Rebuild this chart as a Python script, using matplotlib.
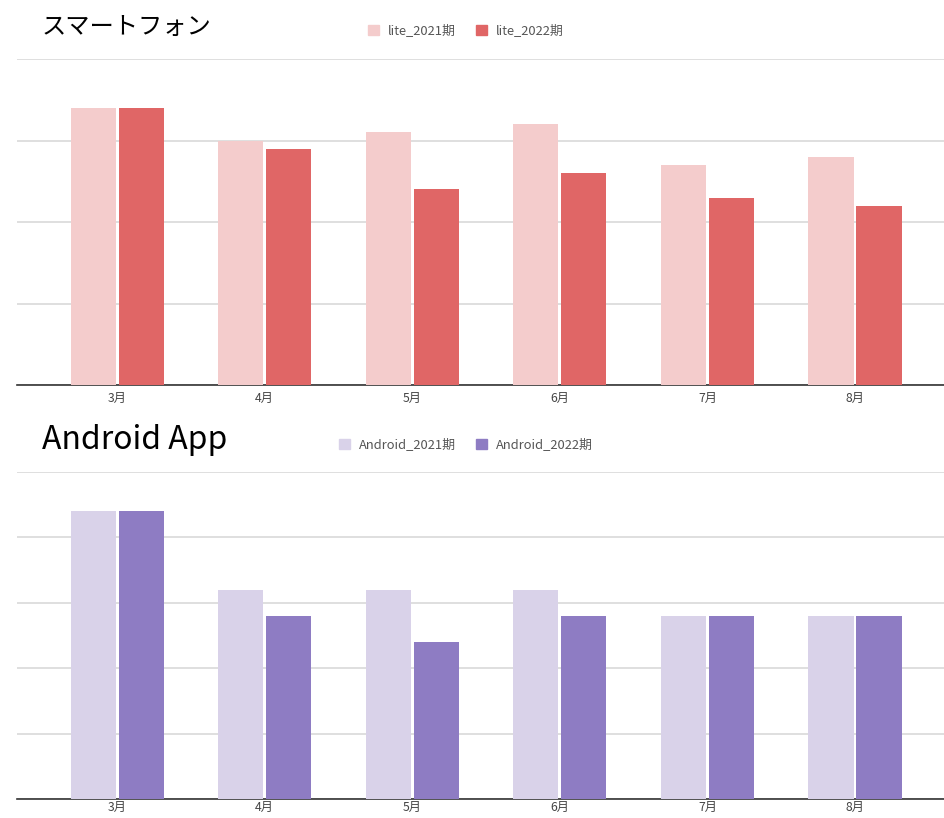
import numpy as np
import matplotlib
matplotlib.use('Agg')
import matplotlib.pyplot as plt
from matplotlib.patches import Patch

plt.rcParams['font.family'] = ['Noto Sans CJK JP', 'DejaVu Sans']

months = ['3月', '4月', '5月', '6月', '7月', '8月']

# スマートフォン (grid every 10)
lite_2021 = [34, 30, 31, 32, 27, 28]
lite_2022 = [34, 29, 24, 26, 23, 22]

# Android App (grid every 5)
android_2021 = [22, 16, 16, 16, 14, 14]
android_2022 = [22, 14, 12, 14, 14, 14]


def draw_panel(fig, rect, title, title_size, v1, v2, lab1, lab2, c1, c2,
               ymax, ystep, title_y, legend_y, tick_pad):
    ax = fig.add_axes(rect)
    x = np.arange(len(months))
    w = 0.305
    off = 0.1626
    ax.bar(x - off, v1, width=w, color=c1, zorder=3)
    ax.bar(x + off, v2, width=w, color=c2, zorder=3)

    ax.set_xlim(-0.678, 5.603)
    ax.set_ylim(0, ymax)
    ax.set_yticks(np.arange(0, ymax + 0.1, ystep))
    ax.yaxis.grid(True, color='#d9d9d9', linewidth=1.2, zorder=0)
    ax.tick_params(axis='y', left=False, labelleft=False)
    ax.set_xticks(x)
    ax.set_xticklabels(months, fontsize=8.8, color='#444444')
    ax.tick_params(axis='x', length=0, pad=tick_pad)
    for s in ['top', 'right', 'left']:
        ax.spines[s].set_visible(False)
    ax.spines['bottom'].set_color('#333333')
    ax.spines['bottom'].set_linewidth(1.2)

    fig.text(42 / 944, 1 - title_y / 818, title, fontsize=title_size, va='center', ha='left', color='#000000')
    handles = [Patch(color=c1, label=lab1), Patch(color=c2, label=lab2)]
    fig.legend(handles=handles, loc='center', bbox_to_anchor=(466 / 944, 1 - legend_y / 818),
               ncol=2, frameon=False, fontsize=9.3, handlelength=0.8, handleheight=0.8,
               handletextpad=0.7, columnspacing=1.6, labelcolor='#555555')
    return ax


fig = plt.figure(figsize=(9.44, 8.18), dpi=100)

draw_panel(fig, [17 / 944, 433 / 818, 927 / 944, 326 / 818], 'スマートフォン', 17.5,
           lite_2021, lite_2022, 'lite_2021期', 'lite_2022期',
           '#f4cccc', '#e06666', 40, 10, 27, 31, 5)

draw_panel(fig, [17 / 944, 19 / 818, 927 / 944, 327 / 818], 'Android App', 23,
           android_2021, android_2022, 'Android_2021期', 'Android_2022期',
           '#d9d2e9', '#8e7cc3', 25, 5, 440, 445, 1.5)

fig.savefig('out.png', dpi=100)
